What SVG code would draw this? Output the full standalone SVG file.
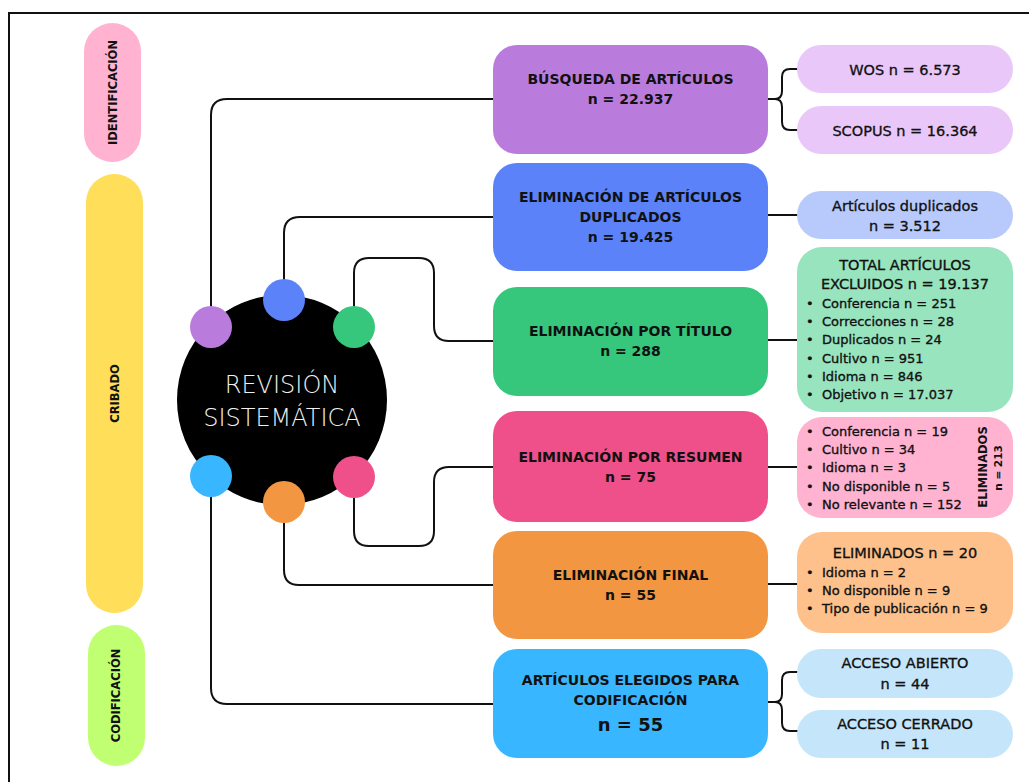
<svg xmlns="http://www.w3.org/2000/svg" width="1029" height="782" viewBox="0 0 1029 782">
<style>
.b{font-family:"DejaVu Sans","Liberation Sans",sans-serif;font-weight:bold;font-size:14px;fill:#111;text-anchor:middle}
.s{font-family:"DejaVu Sans","Liberation Sans",sans-serif;font-size:14.5px;fill:#111;stroke:#111;stroke-width:0.35;text-anchor:middle}
.li{font-family:"DejaVu Sans","Liberation Sans",sans-serif;font-size:13px;fill:#111;stroke:#111;stroke-width:0.35}
.lbl{font-family:"DejaVu Sans","Liberation Sans",sans-serif;font-weight:bold;font-size:11.5px;fill:#111;text-anchor:middle}
.c{fill:none;stroke:#111;stroke-width:2;stroke-linejoin:round}
</style>
<rect width="1029" height="782" fill="#fff"/>
<path d="M9,782 V13 H1029" fill="none" stroke="#111" stroke-width="2"/>

<g id="fase-identificacion">
<rect x="84" y="23" width="57" height="139" rx="28.5" fill="#FFB3D1"/>
<text class="lbl" transform="translate(117,92.5) rotate(-90)">IDENTIFICACIÓN</text>
</g>
<g id="fase-cribado">
<rect x="86" y="174" width="57" height="439" rx="28.5" fill="#FFDE59"/>
<text class="lbl" transform="translate(119,393.5) rotate(-90)">CRIBADO</text>
</g>
<g id="fase-codificacion">
<rect x="88" y="625" width="57" height="141" rx="28.5" fill="#C1FF72"/>
<text class="lbl" transform="translate(120,695.5) rotate(-90)">CODIFICACIÓN</text>
</g>

<g id="connectors">
<path class="c" d="M211,327 V115 Q211,99 227,99 H494"/>
<path class="c" d="M284,300 V233 Q284,217 300,217 H494"/>
<path class="c" d="M354,327 V273 Q354,258 369,258 H419 Q434,258 434,273 V326 Q434,341 449,341 H494"/>
<path class="c" d="M354,477 V531 Q354,546 369,546 H419 Q434,546 434,531 V482 Q434,467 449,467 H494"/>
<path class="c" d="M284,502 V570 Q284,585 299,585 H494"/>
<path class="c" d="M211,476 V688 Q211,704 227,704 H494"/>
<path class="c" d="M768,99 H775 Q782,99 782,91 V77 Q782,69 790,69 H798 M775,99 Q782,99 782,107 V122 Q782,130 790,130 H798"/>
<path class="c" d="M768,215 H798"/>
<path class="c" d="M768,340 H798"/>
<path class="c" d="M768,467 H798"/>
<path class="c" d="M768,584 H798"/>
<path class="c" d="M768,702 H775 Q782,702 782,694 V680 Q782,672 790,672 H798 M775,702 Q782,702 782,710 V723 Q782,731 790,731 H798"/>
</g>

<g id="revision-sistematica">
<circle cx="282" cy="400" r="105" fill="#000"/>
<text x="282" y="393" font-family="DejaVu Sans, sans-serif" font-weight="300" font-size="24" fill="#F0F0F0" text-anchor="middle">REVISIÓN</text>
<text x="282" y="426" font-family="DejaVu Sans, sans-serif" font-weight="300" font-size="24" fill="#F0F0F0" text-anchor="middle">SISTEMÁTICA</text>
<circle cx="211" cy="327" r="21" fill="#B97CDD"/>
<circle cx="284" cy="300" r="21" fill="#5B82F9"/>
<circle cx="354" cy="327" r="21" fill="#37C77C"/>
<circle cx="211" cy="476" r="21" fill="#38B6FF"/>
<circle cx="284" cy="502" r="21" fill="#F39642"/>
<circle cx="354" cy="477" r="21" fill="#F0508A"/>
</g>

<g id="busqueda">
<rect x="493" y="45" width="275" height="109" rx="24" fill="#B97CDD"/>
<text class="b" x="630.5" y="84">BÚSQUEDA DE ARTÍCULOS</text>
<text class="b" x="630.5" y="104">n = 22.937</text>
</g>
<g id="wos">
<rect x="797" y="45" width="216" height="48" rx="24" fill="#E9C8F9"/>
<text class="s" x="905" y="75">WOS n = 6.573</text>
</g>
<g id="scopus">
<rect x="797" y="106" width="216" height="48" rx="24" fill="#E9C8F9"/>
<text class="s" x="905" y="136">SCOPUS n = 16.364</text>
</g>

<g id="duplicados">
<rect x="493" y="163" width="275" height="108" rx="24" fill="#5B82F9"/>
<text class="b" x="630.5" y="202">ELIMINACIÓN DE ARTÍCULOS</text>
<text class="b" x="630.5" y="222">DUPLICADOS</text>
<text class="b" x="630.5" y="242">n = 19.425</text>
</g>
<g id="art-duplicados">
<rect x="797" y="191" width="216" height="48" rx="24" fill="#B8C9FC"/>
<text class="s" x="905" y="211">Artículos duplicados</text>
<text class="s" x="905" y="231">n = 3.512</text>
</g>

<g id="titulo">
<rect x="493" y="287" width="275" height="109" rx="24" fill="#37C77C"/>
<text class="b" x="630.5" y="336">ELIMINACIÓN POR TÍTULO</text>
<text class="b" x="630.5" y="356">n = 288</text>
</g>
<g id="excluidos-titulo">
<rect x="797" y="247" width="216" height="165" rx="25" fill="#98E4BE"/>
<text class="s" x="905" y="270">TOTAL ARTÍCULOS</text>
<text class="s" x="905" y="289">EXCLUIDOS n = 19.137</text>
<text class="li" x="806" y="308">•</text><text class="li" x="822" y="308">Conferencia n = 251</text>
<text class="li" x="806" y="326">•</text><text class="li" x="822" y="326">Correcciones n = 28</text>
<text class="li" x="806" y="344">•</text><text class="li" x="822" y="344">Duplicados n = 24</text>
<text class="li" x="806" y="363">•</text><text class="li" x="822" y="363">Cultivo n = 951</text>
<text class="li" x="806" y="381">•</text><text class="li" x="822" y="381">Idioma n = 846</text>
<text class="li" x="806" y="399">•</text><text class="li" x="822" y="399">Objetivo n = 17.037</text>
</g>

<g id="resumen">
<rect x="493" y="411" width="275" height="111" rx="24" fill="#F0508A"/>
<text class="b" x="630.5" y="462">ELIMINACIÓN POR RESUMEN</text>
<text class="b" x="630.5" y="482">n = 75</text>
</g>
<g id="excluidos-resumen">
<rect x="797" y="417" width="216" height="101" rx="25" fill="#FFB3D1"/>
<text class="li" x="806" y="436">•</text><text class="li" x="822" y="436">Conferencia n = 19</text>
<text class="li" x="806" y="454">•</text><text class="li" x="822" y="454">Cultivo n = 34</text>
<text class="li" x="806" y="472">•</text><text class="li" x="822" y="472">Idioma n = 3</text>
<text class="li" x="806" y="491">•</text><text class="li" x="822" y="491">No disponible n = 5</text>
<text class="li" x="806" y="509">•</text><text class="li" x="822" y="509">No relevante n = 152</text>
<text class="lbl" transform="translate(987,467) rotate(-90)">ELIMINADOS</text>
<text class="lbl" style="font-size:10.5px" transform="translate(1002,468) rotate(-90)">n = 213</text>
</g>

<g id="final">
<rect x="493" y="531" width="275" height="108" rx="24" fill="#F39642"/>
<text class="b" x="630.5" y="580">ELIMINACIÓN FINAL</text>
<text class="b" x="630.5" y="600">n = 55</text>
</g>
<g id="excluidos-final">
<rect x="797" y="532" width="216" height="101" rx="25" fill="#FFC18B"/>
<text class="s" x="905" y="558">ELIMINADOS n = 20</text>
<text class="li" x="806" y="577">•</text><text class="li" x="822" y="577">Idioma n = 2</text>
<text class="li" x="806" y="595">•</text><text class="li" x="822" y="595">No disponible n = 9</text>
<text class="li" x="806" y="613">•</text><text class="li" x="822" y="613">Tipo de publicación n = 9</text>
</g>

<g id="elegidos">
<rect x="493" y="649" width="275" height="109" rx="24" fill="#38B6FF"/>
<text class="b" x="630.5" y="685">ARTÍCULOS ELEGIDOS PARA</text>
<text class="b" x="630.5" y="705">CODIFICACIÓN</text>
<text class="b" x="630.5" y="731" style="font-size:18px">n = 55</text>
</g>
<g id="acceso-abierto">
<rect x="797" y="649" width="216" height="49" rx="24" fill="#C5E6FA"/>
<text class="s" x="905" y="668">ACCESO ABIERTO</text>
<text class="s" x="905" y="689">n = 44</text>
</g>
<g id="acceso-cerrado">
<rect x="797" y="710" width="216" height="48" rx="24" fill="#C5E6FA"/>
<text class="s" x="905" y="729">ACCESO CERRADO</text>
<text class="s" x="905" y="749">n = 11</text>
</g>
</svg>
